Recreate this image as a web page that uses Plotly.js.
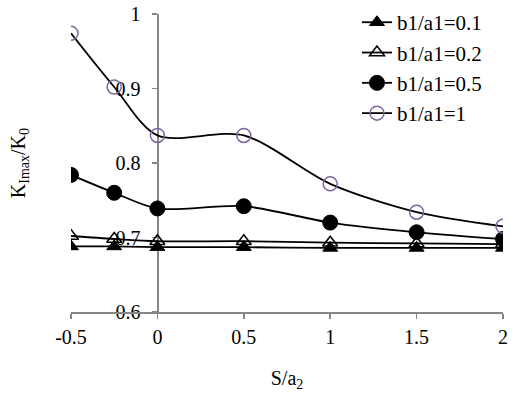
<!DOCTYPE html>
<html>
<head>
<meta charset="utf-8">
<script src="https://cdn.plot.ly/plotly-3.0.1.min.js"></script>
<style>
  html, body { margin: 0; padding: 0; background: #fff; }
  #chart { width: 525px; height: 397px; }
</style>
</head>
<body>
<div id="chart"></div>
<script>
var sa2 = [-0.5, -0.25, 0, 0.5, 1, 1.5, 2];

var k01 = [0.688, 0.688, 0.687, 0.687, 0.686, 0.686, 0.686];
var k02 = [0.702, 0.698, 0.695, 0.695, 0.693, 0.692, 0.691];
var k05 = [0.784, 0.760, 0.739, 0.742, 0.720, 0.707, 0.698];
var k10 = [0.974, 0.902, 0.837, 0.837, 0.772, 0.734, 0.715];

var seriesNames = ["b1/a1=0.1", "b1/a1=0.2", "b1/a1=0.5", "b1/a1=1"];

var xTickVals = [-0.5, 0, 0.5, 1, 1.5, 2];
var xTickText = ["-0.5", "0", "0.5", "1", "1.5", "2"];

var serif = "Liberation Serif";
var axisGray = "#868686";

function series(y, name, symbol, size, color, lineW) {
  return {
    x: sa2,
    y: y,
    name: name,
    type: "scatter",
    mode: "lines+markers",
    line: { color: "black", width: 1.8, shape: "spline", smoothing: 0.85 },
    marker: { symbol: symbol, size: size, color: color, line: { color: color, width: lineW } }
  };
}

var data = [
  series(k01, seriesNames[0], "triangle-up", 13, "black", 1),
  series(k02, seriesNames[1], "triangle-up-open", 13, "black", 1.5),
  series(k05, seriesNames[2], "circle", 15, "black", 1),
  series(k10, seriesNames[3], "circle-open", 14, "#8064A2", 1.5)
];

var layout = {
  width: 525,
  height: 397,
  margin: { l: 71, r: 22, t: 14, b: 85, autoexpand: false },
  paper_bgcolor: "white",
  plot_bgcolor: "white",
  font: { family: serif, size: 20, color: "black" },
  showlegend: true,
  legend: {
    x: 0.662, xanchor: "left",
    y: 1.04, yanchor: "top",
    bgcolor: "rgba(0,0,0,0)",
    font: { family: serif, size: 21, color: "black" },
    tracegroupgap: 0
  },
  xaxis: {
    range: [-0.5, 2],
    tickvals: xTickVals,
    ticktext: xTickText,
    showgrid: false,
    zeroline: false,
    showline: true,
    linecolor: axisGray,
    linewidth: 1.5,
    ticks: "outside",
    ticklen: 5,
    tickwidth: 1.5,
    tickcolor: axisGray,
    ticklabelstandoff: 1,
    tickfont: { family: serif, size: 20, color: "black" },
    title: { text: "S/a<sub>2</sub>", font: { family: serif, size: 20 }, standoff: 24 }
  },
  yaxis: {
    range: [0.6, 1],
    dtick: 0.1,
    anchor: "free",
    position: 0.2,
    showgrid: false,
    zeroline: false,
    showline: true,
    linecolor: axisGray,
    linewidth: 1.5,
    ticks: "outside",
    ticklen: 5,
    tickwidth: 1.5,
    tickcolor: axisGray,
    ticklabelstandoff: 8,
    tickfont: { family: serif, size: 20, color: "black" },
    layer: "below traces"
  },
  annotations: [{
    text: "K<sub>Imax</sub>/K<sub>0</sub>",
    xref: "paper", yref: "paper",
    x: -0.12, y: 0.5,
    xanchor: "center", yanchor: "middle",
    textangle: -90,
    showarrow: false,
    font: { family: serif, size: 20, color: "black" }
  }]
};

Plotly.newPlot("chart", data, layout, { displayModeBar: false, staticPlot: true });
</script>
</body>
</html>
